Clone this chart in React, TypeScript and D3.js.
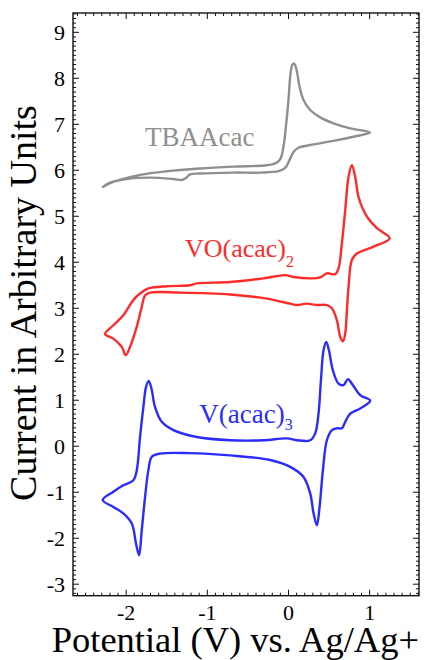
import React from "react";
import * as d3 from "d3";

// Cyclic voltammograms: [potential (V), current (arb. units)]
const tbaAcac: [number, number][] = [
  [-2.289, 5.64], [-2.158, 5.75], [-1.829, 5.9], [-1.5, 5.98], [-1.089, 6.04],
  [-0.678, 6.08], [-0.266, 6.11], [-0.164, 6.15], [-0.102, 6.24], [-0.062, 6.51],
  [-0.032, 6.95], [0.0, 7.53], [0.021, 8.03], [0.046, 8.29], [0.07, 8.32],
  [0.1, 8.18], [0.136, 7.82], [0.185, 7.53], [0.268, 7.31], [0.391, 7.15],
  [0.555, 7.02], [0.761, 6.91], [1.007, 6.82],
  [0.8, 6.73], [0.555, 6.64], [0.268, 6.55], [0.123, 6.49], [0.062, 6.4],
  [0.012, 6.22], [-0.041, 6.05], [-0.123, 5.98], [-0.349, 5.95], [-0.678, 5.95],
  [-1.089, 5.93], [-1.212, 5.91], [-1.27, 5.82], [-1.314, 5.79], [-1.418, 5.81],
  [-1.705, 5.84], [-1.993, 5.81], [-2.199, 5.73],
];

const voAcac2: [number, number][] = [
  [-2.26, 2.44], [-2.158, 2.63], [-2.035, 2.85], [-1.911, 3.18], [-1.829, 3.32],
  [-1.726, 3.43], [-1.5, 3.48], [-1.212, 3.5], [-1.129, 3.54], [-0.719, 3.57],
  [-0.308, 3.65], [-0.041, 3.72], [0.062, 3.68], [0.268, 3.65], [0.391, 3.67],
  [0.473, 3.76], [0.576, 3.74], [0.617, 3.87], [0.658, 4.41], [0.699, 5.13],
  [0.74, 5.86], [0.781, 6.11], [0.822, 5.86], [0.863, 5.42], [0.967, 4.99],
  [1.09, 4.74], [1.246, 4.52],
  [1.048, 4.34], [0.843, 4.19], [0.781, 4.05], [0.74, 3.47], [0.72, 2.96],
  [0.699, 2.45], [0.671, 2.28], [0.637, 2.38], [0.596, 2.74], [0.535, 3.0],
  [0.473, 3.07], [0.35, 3.07], [0.227, 3.1], [0.104, 3.07], [0.021, 3.1],
  [-0.266, 3.21], [-0.719, 3.3], [-1.335, 3.34], [-1.705, 3.34], [-1.767, 3.28],
  [-1.808, 3.03], [-1.869, 2.6], [-1.952, 2.16], [-2.005, 1.98], [-2.054, 2.16],
  [-2.158, 2.34],
];

const vAcac3: [number, number][] = [
  [-2.289, -1.17], [-2.158, -0.99], [-2.035, -0.85], [-1.911, -0.74], [-1.869, -0.52],
  [-1.829, 0.2], [-1.788, 0.85], [-1.755, 1.29], [-1.722, 1.42], [-1.689, 1.26],
  [-1.644, 0.85], [-1.561, 0.53], [-1.418, 0.35], [-1.129, 0.2], [-0.719, 0.13],
  [-0.308, 0.13], [-0.02, 0.17], [0.104, 0.13], [0.268, 0.13], [0.329, 0.28],
  [0.37, 0.71], [0.4, 1.44], [0.432, 2.09], [0.465, 2.27], [0.498, 2.09],
  [0.547, 1.65], [0.617, 1.36], [0.678, 1.33], [0.732, 1.46], [0.781, 1.36],
  [0.884, 1.11], [1.007, 0.99],
  [0.884, 0.82], [0.761, 0.71], [0.699, 0.53], [0.658, 0.39], [0.596, 0.39],
  [0.535, 0.35], [0.473, 0.13], [0.424, -0.52], [0.383, -1.32], [0.35, -1.72],
  [0.309, -1.46], [0.268, -1.03], [0.185, -0.67], [0.021, -0.45], [-0.226, -0.3],
  [-0.719, -0.2], [-1.212, -0.15], [-1.582, -0.16], [-1.684, -0.23], [-1.726, -0.52],
  [-1.767, -1.1], [-1.808, -1.83], [-1.841, -2.37], [-1.878, -2.12], [-1.931, -1.68],
  [-2.035, -1.46], [-2.158, -1.32],
];

const xTicks = [-2, -1, 0, 1];
const yTicks = [-3, -2, -1, 0, 1, 2, 3, 4, 5, 6, 7, 8, 9];

const W = 432;
const H = 660;
const M = { left: 73, right: 419, top: 13, bottom: 595.7 };
const FONT = "Liberation Serif, DejaVu Serif, Times New Roman, serif";
const txt = { fontFamily: FONT };

export default function App() {
  const x = d3.scaleLinear().domain([-2.655, 1.608]).range([M.left, M.right]);
  const y = d3.scaleLinear().domain([-3.25, 9.42]).range([M.bottom, M.top]);

  const line = d3
    .line<[number, number]>()
    .x((d) => x(d[0]))
    .y((d) => y(d[1]))
    .curve(d3.curveCatmullRomClosed.alpha(0.5));

  const xMinor = d3.range(-26, 17).map((i) => i / 10).filter((v) => !xTicks.includes(v));
  const yMinor = d3.range(-32, 95).map((i) => i / 10).filter((v) => !yTicks.includes(v));

  const series = [
    { data: tbaAcac, color: "#8f8f8f" },
    { data: voAcac2, color: "#ff2b2b" },
    { data: vAcac3, color: "#2b2bff" },
  ];

  return (
    <svg
      width={W}
      height={H}
      style={{ position: "absolute", left: 0, top: 0, background: "#fff", fontFamily: FONT }}
    >
      <rect x={0} y={0} width={W} height={H} fill="#fff" />

      {series.map((s, i) => (
        <path key={i} d={line(s.data) ?? ""} fill="none" stroke={s.color} strokeWidth={2.4} strokeLinejoin="round" />
      ))}

      {/* frame */}
      <rect
        x={M.left}
        y={M.top}
        width={M.right - M.left}
        height={M.bottom - M.top}
        fill="none"
        stroke="#111"
        strokeWidth={1.4}
      />

      {/* ticks on all four sides, pointing inward */}
      <g stroke="#111" strokeWidth={1}>
        {xMinor.map((v) => (
          <g key={"xm" + v}>
            <line x1={x(v)} x2={x(v)} y1={M.bottom} y2={M.bottom - 3} />
            <line x1={x(v)} x2={x(v)} y1={M.top} y2={M.top + 3} />
          </g>
        ))}
        {xTicks.map((v) => (
          <g key={"xM" + v}>
            <line x1={x(v)} x2={x(v)} y1={M.bottom} y2={M.bottom - 6} />
            <line x1={x(v)} x2={x(v)} y1={M.top} y2={M.top + 6} />
          </g>
        ))}
        {yMinor.map((v) => (
          <g key={"ym" + v}>
            <line x1={M.left} x2={M.left + 3} y1={y(v)} y2={y(v)} />
            <line x1={M.right} x2={M.right - 3} y1={y(v)} y2={y(v)} />
          </g>
        ))}
        {yTicks.map((v) => (
          <g key={"yM" + v}>
            <line x1={M.left} x2={M.left + 6} y1={y(v)} y2={y(v)} />
            <line x1={M.right} x2={M.right - 6} y1={y(v)} y2={y(v)} />
          </g>
        ))}
      </g>

      {/* tick labels */}
      <g fontSize={22} fill="#000">
        {xTicks.map((v) => (
          <text key={"xl" + v} x={x(v)} y={620} textAnchor="middle" style={txt}>
            {v}
          </text>
        ))}
        {yTicks.map((v) => (
          <text key={"yl" + v} x={65} y={y(v)} dy="0.35em" textAnchor="end" style={txt}>
            {v}
          </text>
        ))}
      </g>

      {/* axis titles */}
      <text x={51.7} y={652} fontSize={36.5} fill="#000" style={txt}>
        Potential (V) vs. Ag/Ag+
      </text>
      <text
        transform={`translate(36, 303) rotate(-90)`}
        textAnchor="middle"
        fontSize={38}
        fill="#000"
        style={txt}
      >
        Current in Arbitrary Units
      </text>

      {/* series labels */}
      <text x={145} y={146} fontSize={27} fill="#8f8f8f" style={txt}>
        TBAAcac
      </text>
      <text x={185} y={256.7} fontSize={26} fill="#ff2b2b" style={txt}>
        VO(acac)
        <tspan fontSize={16} dy={10}>
          2
        </tspan>
      </text>
      <text x={199.3} y={423} fontSize={27} fill="#2b2bff" style={txt}>
        V(acac)
        <tspan fontSize={16} dy={7}>
          3
        </tspan>
      </text>
    </svg>
  );
}
